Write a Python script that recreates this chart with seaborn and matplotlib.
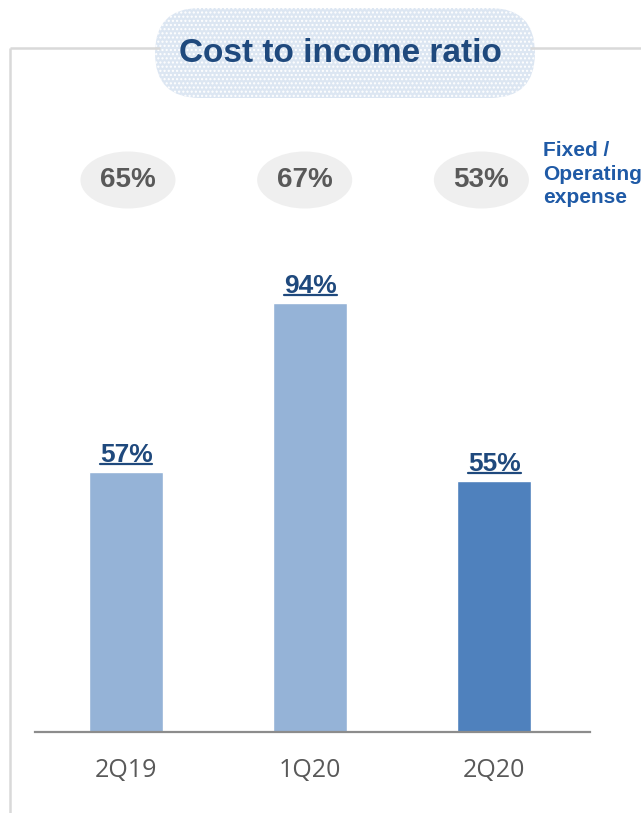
import matplotlib
matplotlib.use("Agg")
import matplotlib.pyplot as plt
from matplotlib.patches import Ellipse, FancyBboxPatch
import seaborn as sns

# data
periods = ["2Q19", "1Q20", "2Q20"]
cost_income = [57, 94, 55]          # cost to income ratio, %
fixed_share = [65, 67, 53]          # fixed / operating expense, %
bar_colors = ["#95B3D7", "#95B3D7", "#4F81BD"]

TITLE = "Cost to income ratio"
SIDE_NOTE = "Fixed /\nOperating\nexpense"

W, H = 641, 813
sns.set_theme(style="white")
plt.rcParams["font.family"] = ["Liberation Sans", "DejaVu Sans"]

fig = plt.figure(figsize=(W / 100, H / 100), dpi=100)

# overlay in pixel units for the slide decoration (frame, title pill)
deco = fig.add_axes([0, 0, 1, 1], zorder=0)
deco.set_xlim(0, W)
deco.set_ylim(H, 0)
deco.axis("off")

frame_kw = dict(color="#d9d9d9", linewidth=1.8, solid_capstyle="butt")
deco.plot([10, 10], [48, H], **frame_kw)
deco.plot([10, 160], [48, 48], **frame_kw)
deco.plot([530, W], [48, 48], **frame_kw)

deco.add_patch(FancyBboxPatch((155, 8), 380, 90,
                              boxstyle="round,pad=0,rounding_size=45",
                              facecolor="#dce6f2", edgecolor="white",
                              linewidth=0, hatch="...."))
deco.text(340, 54, TITLE, ha="center", va="center", fontsize=24,
          fontweight="bold", color="#1F497D")
deco.text(543, 141, SIDE_NOTE, ha="left", va="top", fontsize=15,
          fontweight="bold", color="#1F5AA6", linespacing=1.3)

# chart axes: baseline at y=732, plot from x=35 to x=590
ax = fig.add_axes([35 / W, (H - 732) / H, 555 / W, (732 - 120) / H], zorder=1)
ax.patch.set_alpha(0)

sns.barplot(x=periods, y=cost_income, hue=periods, palette=bar_colors,
            legend=False, width=0.4, saturation=1, ax=ax)

px_per_pct = 4.56
ax.set_ylim(0, (732 - 120) / px_per_pct)
ax.set_xlim(-0.495, 2.52)
ax.set_xlabel("")
ax.set_ylabel("")
ax.set_yticks([])
for s in ["top", "left", "right"]:
    ax.spines[s].set_visible(False)
ax.spines["bottom"].set_color("#8c8c8c")
ax.spines["bottom"].set_linewidth(1.6)
ax.tick_params(axis="x", length=0, pad=19)
for lab in ax.get_xticklabels():
    lab.set_fontfamily(["Open Sans", "DejaVu Sans"])
    lab.set_fontsize(18)
    lab.set_color("#595959")

# bar value labels (underlined below)
value_texts = []
for i, v in enumerate(cost_income):
    t = ax.annotate(f"{v}%", (i, v), xytext=(0, 7.5), textcoords="offset points",
                    ha="center", va="baseline", fontsize=19, fontweight="bold",
                    color="#1F497D")
    value_texts.append(t)

# grey ellipses with fixed / operating expense share
ell_dx = [0.01, -0.03, -0.07]
ell_y = (732 - 180) / px_per_pct
for i, v in enumerate(fixed_share):
    ax.add_patch(Ellipse((i + ell_dx[i], ell_y), 95 / 184, 57 / px_per_pct,
                         facecolor="#efefef", edgecolor="none", clip_on=False))
    ax.text(i + ell_dx[i], ell_y, f"{v}%", ha="center", va="center",
            fontsize=20, fontweight="bold", color="#595959", clip_on=False)

# underline the bar labels
fig.canvas.draw()
r = fig.canvas.get_renderer()
to_px = deco.transData.inverted()
for t in value_texts:
    bb = t.get_window_extent(r)
    (x0, _), (x1, _) = to_px.transform([[bb.x0, bb.y0], [bb.x1, bb.y0]])
    base_y = to_px.transform(ax.transData.transform(t.xy))[1]
    deco.plot([x0, x1], [base_y - 8, base_y - 8], color="#1F497D",
              linewidth=1.6, zorder=3)

fig.savefig("out.png", dpi=100)
